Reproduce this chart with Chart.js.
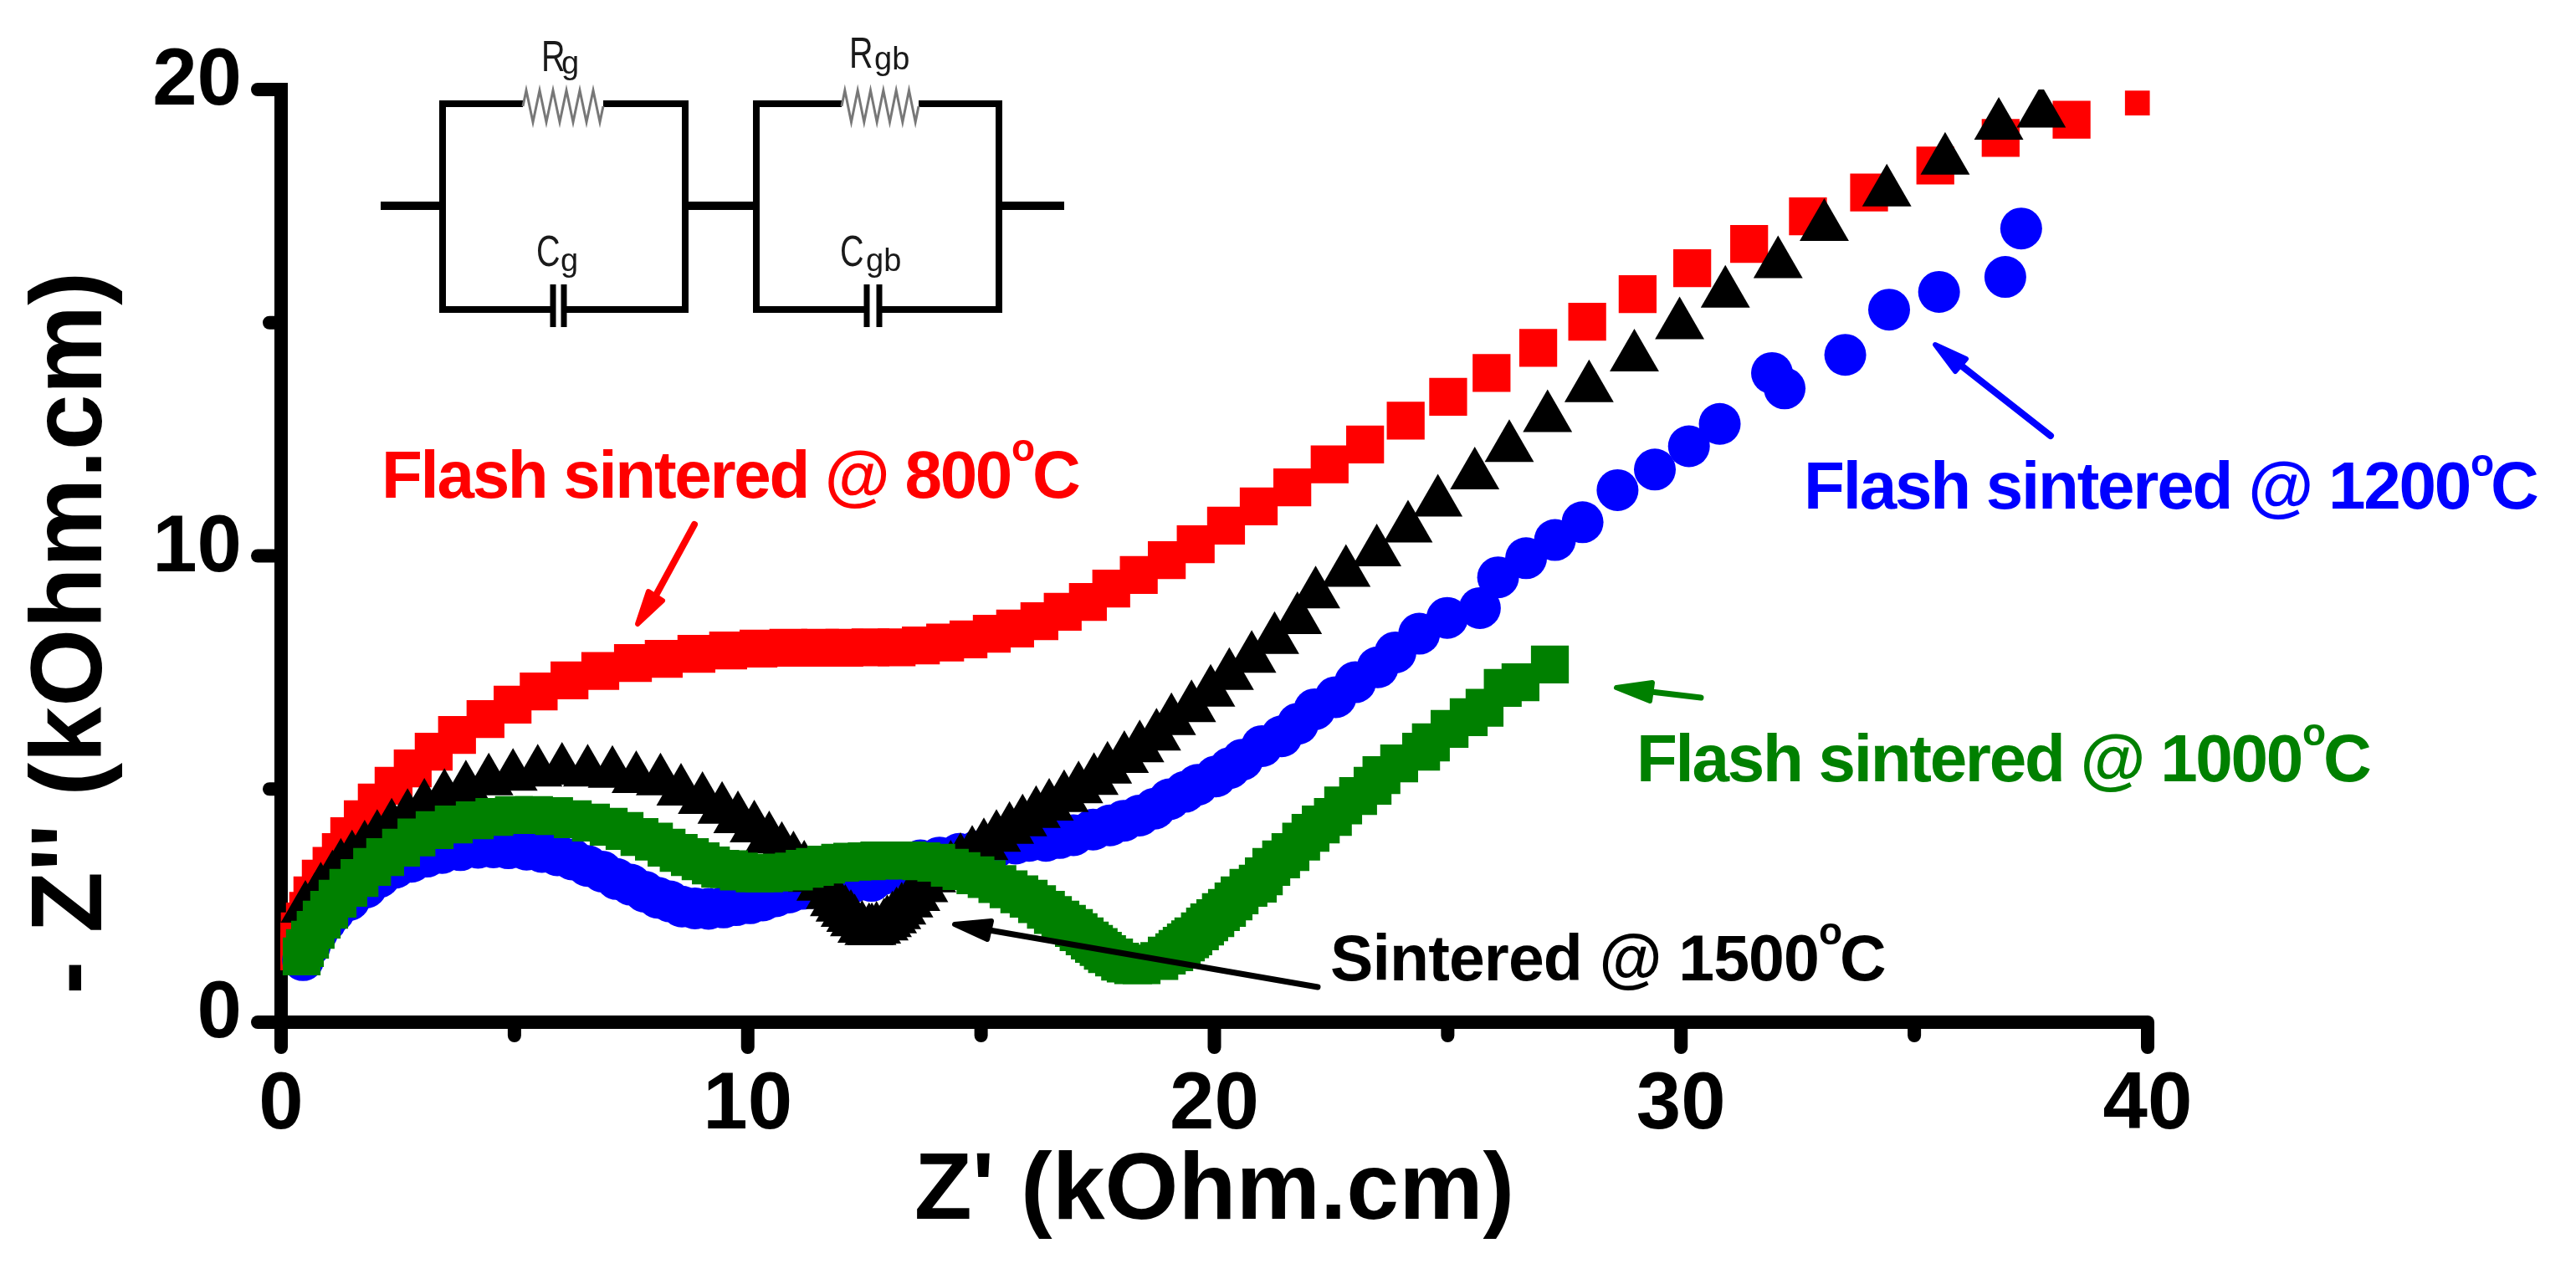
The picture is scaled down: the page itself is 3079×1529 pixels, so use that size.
<!DOCTYPE html>
<html>
<head>
<meta charset="utf-8">
<title>Nyquist plot</title>
<style>html,body{margin:0;padding:0;background:#fff}canvas{display:block}</style>
<script src="https://cdn.jsdelivr.net/npm/chart.js@4"></script>
</head>
<body>
<canvas id="c" width="3079" height="1529"></canvas>
<script>
const xTickLabels = [0, 10, 20, 30, 40];
const yTickLabels = [0, 10, 20];
const xTitle = "Z' (kOhm.cm)";
const yTitle = " - Z'' (kOhm.cm)";

const flash800 = [[.39,1.52],[.39,1.73],[.40,1.95],[.51,2.16],[.58,2.39],[.67,2.72],[.85,3.08],[1.08,3.35],[1.28,3.65],[1.46,3.99],[1.75,4.35],[2.05,4.71],[2.41,5.07],[2.82,5.44],[3.27,5.80],[3.77,6.16],[4.38,6.50],[4.96,6.81],[5.52,7.09],[6.18,7.33],[6.84,7.53],[7.54,7.70],[8.20,7.79],[8.90,7.90],[9.58,7.97],[10.23,8.01],[10.87,8.03],[11.55,8.03],[12.07,8.03],[12.63,8.04],[13.19,8.04],[13.71,8.08],[14.23,8.14],[14.73,8.21],[15.23,8.33],[15.73,8.44],[16.25,8.60],[16.75,8.80],[17.29,9.01],[17.79,9.30],[18.38,9.59],[18.98,9.91],[19.60,10.25],[20.25,10.65],[20.95,11.06],[21.67,11.47],[22.47,11.96],[23.23,12.39],[24.10,12.90],[25.01,13.41],[25.94,13.92],[26.94,14.46],[27.99,15.02],[29.07,15.61],[30.24,16.17],[31.46,16.69],[32.72,17.28],[34.03,17.79],[35.45,18.37],[36.85,18.96],[38.37,19.35],[39.78,19.71]];

const sintered1500 = [[.52,2.44],[.72,2.6],[.85,2.83],[1.10,3.09],[1.28,3.34],[1.52,3.52],[1.79,3.73],[2.06,3.96],[2.37,4.20],[2.71,4.41],[3.07,4.63],[3.50,4.84],[3.96,5.02],[4.45,5.17],[4.97,5.27],[5.50,5.36],[6.02,5.40],[6.57,5.36],[7.10,5.33],[7.61,5.22],[8.13,5.17],[8.57,4.95],[9.03,4.77],[9.45,4.56],[9.79,4.36],[10.14,4.16],[10.46,3.93],[10.73,3.70],[10.98,3.50],[11.21,3.30],[11.39,3.10],[11.57,2.91],[11.77,2.73],[11.86,2.58],[11.98,2.46],[12.09,2.35],[12.21,2.24],[12.29,2.15],[12.45,2.01],[12.60,1.96],[12.66,1.96],[12.76,1.99],[12.92,2.06],[12.99,2.13],[13.10,2.21],[13.19,2.30],[13.30,2.40],[13.45,2.55],[13.60,2.69],[13.77,2.88],[13.94,3.09],[14.35,3.30],[14.56,3.46],[14.81,3.62],[15.06,3.78],[15.33,3.96],[15.61,4.13],[15.89,4.29],[16.18,4.47],[16.46,4.63],[16.78,4.81],[17.09,5.00],[17.42,5.18],[17.71,5.42],[18.07,5.65],[18.40,5.88],[18.76,6.13],[19.08,6.46],[19.51,6.74],[19.92,7.07],[20.32,7.43],[20.80,7.80],[21.29,8.20],[21.78,8.63],[22.17,9.18],[22.82,9.64],[23.48,10.08],[24.15,10.59],[24.79,11.15],[25.58,11.73],[26.32,12.32],[27.14,12.96],[28.03,13.60],[29.0,14.26],[29.97,14.95],[30.95,15.63],[32.08,16.26],[33.07,17.06],[34.41,17.80],[35.66,18.48],[36.81,19.23],[37.72,19.49]];

const flash1200 = [[.47,1.33],[.62,1.65],[.77,1.92],[.95,2.16],[1.13,2.37],[1.46,2.62],[1.82,2.89],[2.10,3.11],[2.44,3.31],[2.79,3.44],[3.12,3.55],[3.45,3.63],[3.84,3.69],[4.22,3.74],[4.55,3.75],[4.87,3.73],[5.26,3.70],[5.59,3.65],[5.92,3.58],[6.24,3.49],[6.57,3.35],[6.88,3.23],[7.19,3.07],[7.49,2.95],[7.79,2.80],[8.07,2.67],[8.33,2.59],[8.59,2.48],[8.87,2.44],[9.16,2.43],[9.48,2.46],[9.75,2.51],[10.05,2.55],[10.32,2.61],[10.60,2.70],[10.88,2.78],[11.16,2.86],[11.37,2.88],[11.80,2.95],[12.25,3.0],[12.65,3.03],[12.89,3.17],[12.99,3.31],[13.35,3.40],[13.70,3.47],[14.11,3.53],[14.53,3.61],[14.90,3.66],[15.30,3.74],[15.74,3.83],[16.03,3.89],[16.39,3.89],[16.68,3.95],[16.98,4.01],[17.40,4.13],[17.76,4.22],[18.06,4.32],[18.39,4.43],[18.72,4.58],[19.04,4.78],[19.37,4.94],[19.64,5.09],[20.03,5.27],[20.33,5.45],[20.60,5.63],[21.02,5.92],[21.44,6.13],[21.79,6.40],[22.15,6.71],[22.60,6.97],[23.02,7.29],[23.50,7.61],[23.88,7.93],[24.39,8.33],[24.99,8.67],[25.69,8.88],[26.08,9.54],[26.68,9.95],[27.30,10.34],[27.89,10.72],[28.64,11.41],[29.44,11.85],[30.17,12.35],[30.83,12.83],[31.95,13.92],[32.22,13.59],[33.52,14.31],[34.46,15.28],[35.53,15.66],[36.95,15.98],[37.29,17.02]];

const flash1000 = [[.44,1.41],[.51,1.59],[.62,1.77],[.74,1.98],[.87,2.20],[1.03,2.41],[1.21,2.65],[1.44,2.88],[1.68,3.09],[1.95,3.33],[2.23,3.54],[2.57,3.74],[2.90,3.96],[3.29,4.12],[3.70,4.24],[4.15,4.33],[4.57,4.40],[4.99,4.44],[5.42,4.44],[5.85,4.42],[6.25,4.35],[6.64,4.28],[7.02,4.19],[7.36,4.10],[7.68,3.97],[7.99,3.87],[8.26,3.74],[8.52,3.63],[8.76,3.54],[8.99,3.45],[9.21,3.36],[9.41,3.29],[9.60,3.28],[9.81,3.23],[10.15,3.19],[10.35,3.19],[10.56,3.21],[10.99,3.23],[11.22,3.29],[11.44,3.33],[11.68,3.38],[11.98,3.42],[12.24,3.44],[12.55,3.45],[12.82,3.47],[13.11,3.47],[13.42,3.47],[13.72,3.45],[14.04,3.42],[14.33,3.31],[14.58,3.24],[14.88,3.15],[15.12,3.07],[15.35,2.96],[15.59,2.85],[15.82,2.74],[16.02,2.65],[16.20,2.53],[16.39,2.41],[16.54,2.30],[16.70,2.20],[16.84,2.11],[16.99,2.02],[17.09,1.93],[17.22,1.84],[17.33,1.75],[17.42,1.68],[17.52,1.61],[17.61,1.53],[17.70,1.46],[17.85,1.39],[17.98,1.30],[18.10,1.26],[18.26,1.22],[18.44,1.22],[18.82,1.31],[18.98,1.43],[19.14,1.50],[19.21,1.57],[19.30,1.64],[19.39,1.71],[19.48,1.78],[19.55,1.84],[19.69,1.95],[19.80,2.05],[19.89,2.14],[20.02,2.23],[20.14,2.36],[20.27,2.45],[20.41,2.59],[20.54,2.72],[20.73,2.88],[20.93,2.97],[21.06,3.13],[21.22,3.33],[21.43,3.49],[21.63,3.65],[21.86,3.87],[22.06,4.06],[22.28,4.24],[22.54,4.40],[22.76,4.65],[23.08,4.85],[23.39,5.07],[23.58,5.30],[23.96,5.55],[24.43,5.80],[24.64,6.00],[25.04,6.29],[25.45,6.54],[25.79,6.74],[26.18,7.17],[26.56,7.29],[27.19,7.67]];

const toPts = a => a.map(p => ({x: p[0], y: p[1]}));
const FONT = '"Liberation Sans", Arial, sans-serif';

const axisDecor = {
  id: 'axisDecor',
  beforeDatasetsDraw(chart) {
    const c = chart.ctx, xs = chart.scales.x, ys = chart.scales.y;
    const x0 = xs.getPixelForValue(0), y0 = ys.getPixelForValue(0);
    c.save();
    c.strokeStyle = '#000'; c.lineCap = 'round'; c.lineWidth = 16;
    ys.ticks.forEach(t => {
      const py = ys.getPixelForValue(t.value), major = yTickLabels.includes(t.value);
      c.beginPath(); c.moveTo(x0 - (major ? 28 : 14), py); c.lineTo(x0, py); c.stroke();
    });
    xs.ticks.forEach(t => {
      const px = xs.getPixelForValue(t.value), major = xTickLabels.includes(t.value);
      c.beginPath(); c.moveTo(px, y0 + (major ? 30 : 16)); c.lineTo(px, y0); c.stroke();
    });
    c.restore();
  }
};

function arrow(c, color, w, tail, tip, h1, h2) {
  c.strokeStyle = color; c.fillStyle = color; c.lineWidth = w; c.lineCap = 'round'; c.lineJoin = 'round';
  const mx = (h1[0] + h2[0]) / 2, my = (h1[1] + h2[1]) / 2;
  c.beginPath(); c.moveTo(tail[0], tail[1]); c.lineTo(mx, my); c.stroke();
  c.lineWidth = 6;
  c.beginPath(); c.moveTo(tip[0], tip[1]); c.lineTo(h1[0], h1[1]); c.lineTo(h2[0], h2[1]); c.closePath(); c.fill(); c.stroke();
}

function label(c, color, main, x, base, target, oX, oDrop, cX, size) {
  c.fillStyle = color; c.textBaseline = 'alphabetic'; c.textAlign = 'left';
  c.font = `bold ${size}px ${FONT}`;
  c.letterSpacing = '0px';
  const natural = c.measureText(main).width;
  c.letterSpacing = ((target - natural) / main.length) + 'px';
  c.fillText(main, x, base);
  c.letterSpacing = '0px';
  c.fillText('C', cX, base);
  c.font = `bold 46px ${FONT}`;
  c.fillText('o', oX, base - oDrop);
}

function zigzag(c, x1, x2, yMid, amp) {
  const n = 12, step = (x2 - x1) / n;
  c.beginPath(); c.moveTo(x1, yMid);
  for (let i = 0; i < n; i++) c.lineTo(x1 + step * (i + .5), yMid + (i % 2 ? amp : -amp));
  c.lineTo(x2, yMid);
  c.stroke();
}

function sub(c, big, small, x, base, sx, sbase) {
  c.fillStyle = '#1a1a1a'; c.textAlign = 'left'; c.textBaseline = 'alphabetic';
  c.save();
  c.translate(x, base); c.scale(0.76, 1);
  c.font = `52px "Liberation Sans", sans-serif`;
  c.fillText(big, 0, 0);
  c.restore();
  c.font = `38px "Liberation Sans", sans-serif`;
  c.fillText(small, sx, sbase);
}

function circuit(c) {
  c.save();
  c.strokeStyle = '#000'; c.lineCap = 'butt';
  const boxes = [
    {l: 529, r: 819, rA: 625, rB: 721, cA: 661, cB: 674},
    {l: 904, r: 1194, rA: 1006, rB: 1098, cA: 1036, cB: 1051}
  ];
  const top = 124, bot = 370, mid = 246;
  boxes.forEach(b => {
    c.lineWidth = 8;
    c.beginPath();
    c.moveTo(b.rA, top); c.lineTo(b.l, top); c.lineTo(b.l, bot); c.lineTo(b.cA, bot);
    c.moveTo(b.cB, bot); c.lineTo(b.r, bot); c.lineTo(b.r, top); c.lineTo(b.rB, top);
    c.stroke();
    c.lineWidth = 7;
    c.beginPath();
    c.moveTo(b.cA, 340); c.lineTo(b.cA, 391);
    c.moveTo(b.cB, 340); c.lineTo(b.cB, 391);
    c.stroke();
    c.save(); c.strokeStyle = '#777'; c.lineWidth = 3;
    zigzag(c, b.rA, b.rB, 127, 19);
    c.restore();
  });
  c.lineWidth = 10;
  c.beginPath();
  c.moveTo(455, mid); c.lineTo(529, mid);
  c.moveTo(819, mid); c.lineTo(904, mid);
  c.moveTo(1194, mid); c.lineTo(1272, mid);
  c.stroke();
  sub(c, 'R', 'g', 647, 85, 671, 88);
  sub(c, 'R', 'gb', 1015, 81, 1045, 83);
  sub(c, 'C', 'g', 641, 318, 670, 324);
  sub(c, 'C', 'gb', 1004, 318, 1035, 324);
  c.restore();
}

const annotations = {
  id: 'annotations',
  afterDatasetsDraw(chart) {
    const c = chart.ctx;
    c.save();
    circuit(c);
    label(c, '#ff0000', 'Flash sintered @ 800', 456, 595, 752, 1209, 44, 1234, 80);
    label(c, '#0000ff', 'Flash sintered @ 1200', 2156, 608, 796, 2953, 39, 2977, 80);
    label(c, '#008000', 'Flash sintered @ 1000', 1956, 934, 795, 2752, 43, 2777, 80);
    label(c, '#000000', 'Sintered @ 1500', 1590, 1172, 584, 2174, 43, 2199, 77);
    arrow(c, '#ff0000', 8, [830, 627], [762, 746], [775, 707], [792, 718]);
    arrow(c, '#0000ff', 8, [2451, 521], [2313, 412], [2337, 444], [2350, 429]);
    arrow(c, '#008000', 7, [2033, 834], [1932, 822], [1975, 816], [1972, 838]);
    arrow(c, '#000000', 7, [1575, 1180], [1141, 1105], [1185, 1101], [1180, 1123]);
    c.restore();
  }
};

const scatterSet = (label, data, style, color, radius, order) => ({
  label, data: toPts(data), pointStyle: style, backgroundColor: color, borderColor: color,
  pointBackgroundColor: color, pointBorderColor: color, pointBorderWidth: 0,
  pointRadius: radius, pointHoverRadius: radius, showLine: false, order, clip: false
});

const blackSet = scatterSet('Sintered @ 1500°C', sintered1500, 'triangle', '#000000', 34, 2);
blackSet.clip = {left: false, top: 0, right: false, bottom: false};

new Chart(document.getElementById('c'), {
  type: 'scatter',
  data: {
    datasets: [
      scatterSet('Flash sintered @ 800°C', flash800, 'rect', '#ff0000',
        ctx => ctx.dataIndex === flash800.length - 1 ? 21 : 32, 4),
      scatterSet('Flash sintered @ 1200°C', flash1200, 'circle', '#0000ff', 25, 3),
      blackSet,
      scatterSet('Flash sintered @ 1000°C', flash1000, 'rect', '#008000', 32, 1)
    ]
  },
  plugins: [axisDecor, annotations],
  options: {
    responsive: false,
    animation: false,
    devicePixelRatio: 1,
    layout: {padding: {top: 107, right: 512, left: 0, bottom: 0}},
    plugins: {legend: {display: false}, title: {display: false}, tooltip: {enabled: false}},
    scales: {
      x: {
        type: 'linear', min: 0, max: 40,
        afterFit(s) { s.height = 307; },
        grid: {drawOnChartArea: false, drawTicks: false},
        border: {display: true, color: '#000', width: 16},
        ticks: {
          stepSize: 5, maxRotation: 0, autoSkip: false, padding: 43, color: '#000',
          font: {family: FONT, weight: 'bold', size: 96},
          callback: v => xTickLabels.includes(v) ? String(v) : ''
        },
        title: {display: true, text: xTitle, color: '#000',
          font: {family: FONT, weight: 'bold', size: 113}, padding: {top: 0, bottom: 35}}
      },
      y: {
        type: 'linear', min: 0, max: 20,
        afterFit(s) { s.width = 336; },
        grid: {drawOnChartArea: false, drawTicks: false},
        border: {display: true, color: '#000', width: 16},
        ticks: {
          stepSize: 5, autoSkip: false, padding: 47, labelOffset: -8, color: '#000',
          font: {family: FONT, weight: 'bold', size: 96},
          callback: v => yTickLabels.includes(v) ? String(v) : ''
        },
        title: {display: true, text: yTitle, align: 'start', color: '#000',
          font: {family: FONT, weight: 'bold', size: 120}, padding: {top: 16, bottom: 0}}
      }
    }
  }
});
</script>
</body>
</html>
